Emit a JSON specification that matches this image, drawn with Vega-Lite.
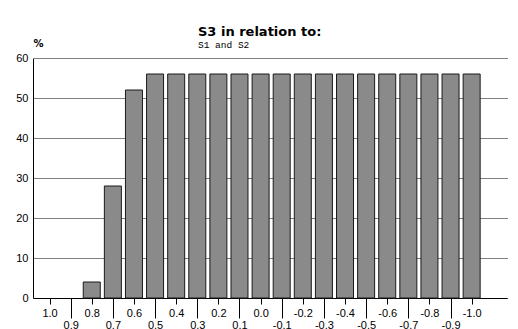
{
  "$schema": "https://vega.github.io/schema/vega-lite/v6.json",
  "width": 474,
  "height": 240,
  "autosize": {"type": "none"},
  "padding": {"left": 33, "top": 58, "right": 11, "bottom": 31},
  "background": "white",
  "config": {"view": {"stroke": null}},
  "title": {
    "text": "S3 in relation to:",
    "subtitle": "S1 and S2",
    "anchor": "start",
    "frame": "group",
    "dx": 165,
    "offset": -11,
    "font": "DejaVu Sans",
    "fontSize": 13,
    "fontWeight": "bold",
    "color": "#000",
    "subtitleFont": "Liberation Mono",
    "subtitleFontSize": 9.5,
    "subtitleColor": "#000",
    "subtitlePadding": 1
  },
  "data": {
    "values": [
      {"r": 1.0, "pct": 0},
      {"r": 0.9, "pct": 0},
      {"r": 0.8, "pct": 4},
      {"r": 0.7, "pct": 28},
      {"r": 0.6, "pct": 52},
      {"r": 0.5, "pct": 56},
      {"r": 0.4, "pct": 56},
      {"r": 0.3, "pct": 56},
      {"r": 0.2, "pct": 56},
      {"r": 0.1, "pct": 56},
      {"r": 0.0, "pct": 56},
      {"r": -0.1, "pct": 56},
      {"r": -0.2, "pct": 56},
      {"r": -0.3, "pct": 56},
      {"r": -0.4, "pct": 56},
      {"r": -0.5, "pct": 56},
      {"r": -0.6, "pct": 56},
      {"r": -0.7, "pct": 56},
      {"r": -0.8, "pct": 56},
      {"r": -0.9, "pct": 56},
      {"r": -1.0, "pct": 56}
    ]
  },
  "mark": {"type": "bar", "size": 17, "fill": "#8a8a8a", "stroke": "#1a1a1a", "strokeWidth": 1},
  "encoding": {
    "strokeOpacity": {"condition": {"test": "datum.pct > 0", "value": 1}, "value": 0},
    "x": {
      "field": "r",
      "type": "quantitative",
      "scale": {"domain": [-1.1438, 1.0547], "reverse": true, "nice": false, "zero": false},
      "axis": {
        "title": null,
        "values": [1, 0.9, 0.8, 0.7, 0.6, 0.5, 0.4, 0.3, 0.2, 0.1, 0, -0.1, -0.2, -0.3, -0.4, -0.5, -0.6, -0.7, -0.8, -0.9, -1],
        "format": ".1f",
        "labelExpr": "replace(datum.label, '−', '-')",
        "grid": false,
        "domainColor": "#000",
        "domainWidth": 1,
        "tickColor": "#000",
        "tickSize": {"expr": "abs(round(datum.value*10)) % 2 == 1 ? 20 : 6"},
        "labelPadding": {"expr": "abs(round(datum.value*10)) % 2 == 1 ? 1 : 3"},
        "labelFont": "Liberation Sans",
        "labelFontSize": 11,
        "labelColor": "#000",
        "labelBaseline": "top",
        "labelFlush": false,
        "labelOverlap": false
      }
    },
    "y": {
      "field": "pct",
      "type": "quantitative",
      "scale": {"domain": [0, 60], "nice": false},
      "axis": {
        "title": "%",
        "titleAngle": 0,
        "titleX": 0,
        "titleY": -10,
        "titleAlign": "left",
        "titleBaseline": "bottom",
        "titleFont": "DejaVu Sans",
        "titleFontSize": 10,
        "titleFontWeight": "bold",
        "titleColor": "#000",
        "values": [0, 10, 20, 30, 40, 50, 60],
        "ticks": false,
        "labelPadding": 5,
        "labelFont": "Liberation Sans",
        "labelFontSize": 11,
        "labelColor": "#000",
        "domainColor": "#000",
        "grid": true,
        "gridColor": "#000",
        "gridDash": [1, 1],
        "gridWidth": 1,
        "gridOpacity": 1
      }
    }
  }
}
